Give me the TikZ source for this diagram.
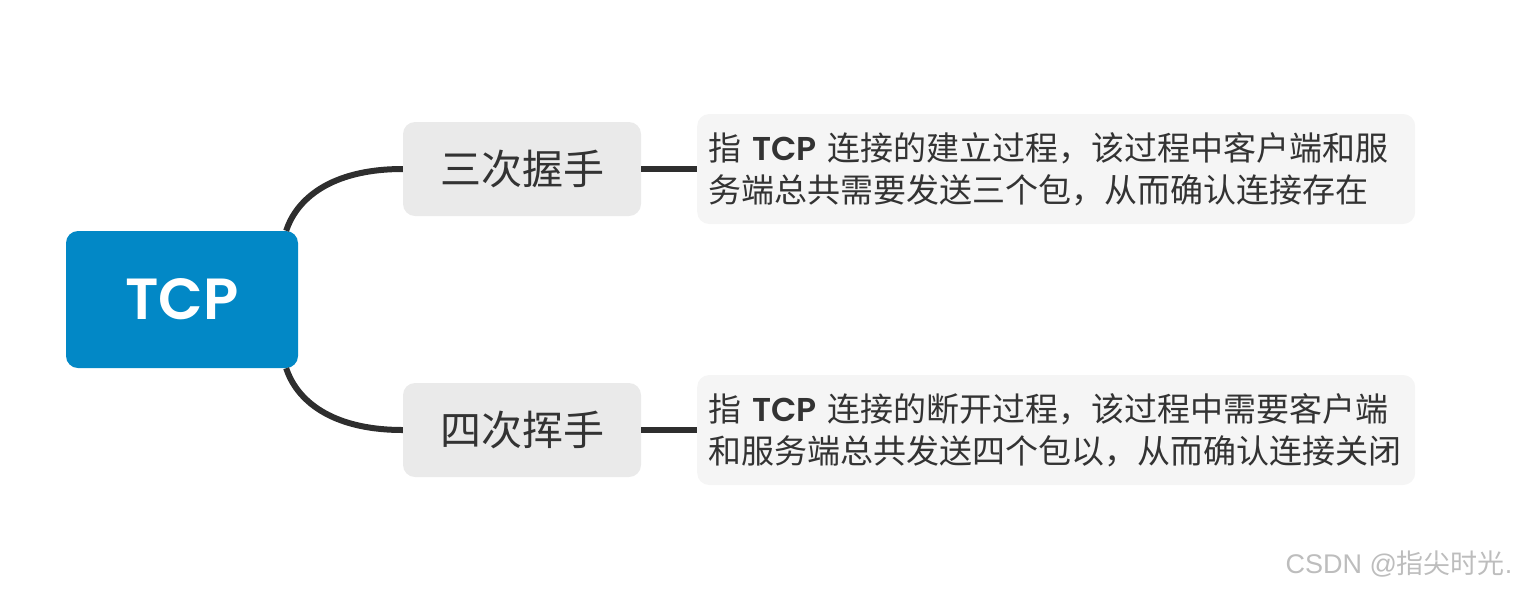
\documentclass[tikz,border=0pt]{standalone}
\usepackage{fontspec}
\newfontfamily\cjk{Noto Sans CJK SC}
\newfontfamily\geo{Poppins}[BoldFont={Poppins SemiBold}]
\newfontfamily\arial{Liberation Sans}
\usetikzlibrary{positioning}

\definecolor{rootblue}{HTML}{0288C6}
\definecolor{topicgray}{HTML}{EAEAEA}
\definecolor{descgray}{HTML}{F5F5F5}
\definecolor{inkgray}{HTML}{333333}
\definecolor{linegray}{HTML}{2E2E2E}
\definecolor{markgray}{HTML}{BDBDBD}

\tikzset{
  root/.style={fill=rootblue, rounded corners=12pt, minimum width=232pt, minimum height=137pt,
    text=white, font=\geo\bfseries\fontsize{58}{60}\selectfont},
  topic/.style={fill=topicgray, rounded corners=12pt, minimum width=238pt, minimum height=94pt,
    text=inkgray, font=\cjk\fontsize{41}{44}\selectfont},
  desc/.style={fill=descgray, rounded corners=12pt, minimum width=718pt, minimum height=110pt,
    text width=696pt, inner xsep=11pt, align=left, anchor=west, text=inkgray,
    font=\cjk\fontsize{33}{42}\selectfont},
  branch/.style={draw=linegray, line width=6pt},
  wmark/.style={text=markgray, font=\fontsize{27}{30}\selectfont}
}
\newcommand{\tcpword}{{\geo\bfseries TCP}}

\begin{document}
\begin{tikzpicture}[x=1pt, y=-1pt]
    \useasboundingbox (0,0) rectangle (1526,590);

    % Root node
    \node[root] (tcp) at (182,299.5) {TCP};

    % Topics
    \node[topic] (shake) at (522,169) {三次握手};
    \node[topic] (wave) at (522,430) {四次挥手};

    % Descriptions
    \node[desc] (shakedesc) at (697,169) {指 \tcpword{} 连接的建立过程，该过程中客户端和服\\务端总共需要发送三个包，从而确认连接存在};
    \node[desc] (wavedesc) at (697,430) {指 \tcpword{} 连接的断开过程，该过程中需要客户端\\和服务端总共发送四个包以，从而确认连接关闭};

    % Branches
    \draw[branch] ([xshift=-12pt]tcp.north east) .. controls +(10,-31) and +(-73,0) .. (shake.west);
    \draw[branch] ([xshift=-12pt]tcp.south east) .. controls +(10,31) and +(-73,0) .. (wave.west);
    \draw[branch] (shake.east) -- (shakedesc.west);
    \draw[branch] (wave.east) -- (wavedesc.west);

    % Watermark
    \node[wmark, anchor=east] (mark) at (1516,564) {\arial CSDN @{\cjk 指尖时光}.};
\end{tikzpicture}
\end{document}
